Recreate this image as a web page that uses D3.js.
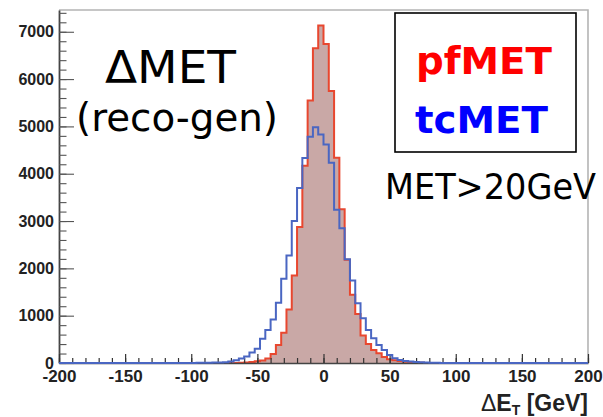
<!DOCTYPE html>
<html>
<head>
<meta charset="utf-8">
<script src="https://cdn.jsdelivr.net/npm/d3@7"></script>
<style>
  html, body { margin: 0; padding: 0; background: #fff; }
  svg { display: block; }
</style>
</head>
<body>
<svg id="chart" width="603" height="417"></svg>
<script>
// Histogram binning: 100 bins of 4 GeV from -200 to 200
const binStart = -200;
const binWidth = 4;

// pfMET - genMET, entries per bin
const pfMET = [
  0, 0, 0, 0, 0, 0, 0, 0, 0, 0,
  0, 0, 0, 0, 0, 0, 0, 0, 0, 0,
  0, 0, 0, 0, 0, 0, 0, 0, 0, 0,
  0, 0, 0, 0, 5, 12, 22, 35, 55, 95,
  190, 380, 640, 1130, 1850, 2874, 4170, 5550, 6650, 7130,
  6740, 5750, 4340, 3250, 2180, 1440, 1035, 580, 400, 275,
  205, 125, 80, 60, 40, 25, 15, 8, 4, 0,
  0, 0, 0, 0, 0, 0, 0, 0, 0, 0,
  0, 0, 0, 0, 0, 0, 0, 0, 0, 0,
  0, 0, 0, 0, 0, 0, 0, 0, 0, 0
];

// tcMET - genMET, entries per bin
const tcMET = [
  0, 0, 0, 0, 0, 0, 0, 0, 0, 0,
  0, 0, 0, 0, 0, 0, 0, 0, 0, 0,
  0, 0, 0, 0, 0, 0, 3, 5, 5, 8,
  10, 15, 30, 60, 95, 140, 220, 300, 515, 700,
  920, 1275, 1780, 2270, 3000, 3700, 4330, 4780, 4980, 4830,
  4620, 4230, 3240, 2850, 2190, 1745, 1265, 946, 699, 522,
  381, 275, 169, 100, 64, 42, 30, 20, 14, 10,
  6, 3, 0, 0, 0, 0, 0, 0, 0, 0,
  0, 0, 0, 0, 0, 0, 0, 0, 0, 0,
  0, 0, 0, 0, 0, 0, 0, 0, 0, 0
];

// Axis ticks
const xMajorTicks = [-200, -150, -100, -50, 0, 50, 100, 150, 200];
const yMajorTicks = [0, 1000, 2000, 3000, 4000, 5000, 6000, 7000];
const xRange = [-200, 200];
const yMax = 7460;

// Text
const titleLines = ["\u0394MET", "(reco-gen)"];
const legendLabels = ["pfMET", "tcMET"];
const cutLabel = "MET>20GeV";

const svg = d3.select("#chart");
const frame = { left: 59, right: 588, top: 10, bottom: 363 };

const x = d3.scaleLinear().domain(xRange).range([frame.left, frame.right]);
const y = d3.scaleLinear().domain([0, yMax]).range([frame.bottom, frame.top]);

// plain ASCII hyphen for negative tick values
const plainNumber = d => String(d);

// turn bin contents into step points
function stepPoints(values) {
  const pts = [];
  values.forEach((v, i) => {
    const lo = binStart + i * binWidth;
    pts.push([lo, v], [lo + binWidth, v]);
  });
  return pts;
}

const line = d3.line().x(d => x(d[0])).y(d => y(d[1]));
const area = d3.area().x(d => x(d[0])).y0(y(0)).y1(d => y(d[1]));

const pfPts = stepPoints(pfMET);
const tcPts = stepPoints(tcMET);

// frame (top and right borders)
svg.append("path")
  .attr("d", `M${frame.left},${frame.top}H${frame.right}V${frame.bottom}`)
  .attr("fill", "none").attr("stroke", "#b4b4b4").attr("stroke-width", 1.6);

// pfMET filled histogram
svg.append("path").attr("d", area(pfPts))
  .attr("fill", "#c9a8a6");
svg.append("path").attr("d", line(pfPts))
  .attr("fill", "none").attr("stroke", "#e8472f").attr("stroke-width", 2);

// y axis
const yAxisG = svg.append("g").attr("transform", `translate(${frame.left},0)`);
yAxisG.call(d3.axisLeft(y).tickValues(d3.range(0, yMax, 200)).tickSizeInner(-7.5).tickSizeOuter(0).tickFormat(""));
yAxisG.selectAll(".tick line").attr("stroke", "#555").attr("stroke-width", 1.1);
yAxisG.select(".domain").attr("stroke", "#444").attr("stroke-width", 1.8);
const yMajG = svg.append("g").attr("transform", `translate(${frame.left},0)`);
yMajG.call(d3.axisLeft(y).tickValues(yMajorTicks).tickSizeInner(-15).tickSizeOuter(0).tickPadding(5).tickFormat(plainNumber));
yMajG.select(".domain").remove();
yMajG.selectAll(".tick line").attr("stroke", "#555").attr("stroke-width", 1.1);
yMajG.selectAll(".tick text")
  .attr("font-family", "Liberation Sans, Arial, sans-serif")
  .attr("font-weight", "bold").attr("font-size", 16).attr("fill", "#222");

// x axis
const xMinG = svg.append("g").attr("transform", `translate(0,${frame.bottom})`);
xMinG.call(d3.axisBottom(x).tickValues(d3.range(-200, 201, 10)).tickSizeInner(-5).tickSizeOuter(0).tickFormat(""));
xMinG.select(".domain").attr("stroke", "#444").attr("stroke-width", 1.5);
xMinG.selectAll(".tick line").attr("stroke", "#333").attr("stroke-width", 1.2);
const xMajG = svg.append("g").attr("transform", `translate(0,${frame.bottom})`);
xMajG.call(d3.axisBottom(x).tickValues(xMajorTicks).tickSizeInner(-9).tickSizeOuter(0).tickPadding(7).tickFormat(plainNumber));
xMajG.select(".domain").remove();
xMajG.selectAll(".tick line").attr("stroke", "#333").attr("stroke-width", 1.2);
xMajG.selectAll(".tick text")
  .attr("font-family", "Liberation Sans, Arial, sans-serif")
  .attr("font-weight", "bold").attr("font-size", 17).attr("fill", "#222");

// tcMET outline histogram, drawn on top
svg.append("path").attr("d", line(tcPts))
  .attr("fill", "none").attr("stroke", "#4a66c2").attr("stroke-width", 2);

// axis title
const xt = svg.append("text")
  .attr("x", 588).attr("y", 411).attr("text-anchor", "end")
  .attr("font-family", "Liberation Sans, Arial, sans-serif")
  .attr("font-size", 23).attr("fill", "#222");
xt.append("tspan").text("\u0394");
xt.append("tspan").attr("font-weight", "bold").text("E");
xt.append("tspan").attr("font-weight", "bold").attr("font-size", 14).attr("dy", 4).text("T");
xt.append("tspan").attr("font-weight", "bold").attr("dy", -4).text(" [GeV]");

// annotation text
const handFont = "DejaVu Sans, Verdana, sans-serif";
svg.append("text").attr("x", 105).attr("y", 83)
  .attr("font-family", handFont).attr("font-size", 45)
  .attr("textLength", 131).attr("lengthAdjust", "spacingAndGlyphs")
  .attr("fill", "#000").text(titleLines[0]);
svg.append("text").attr("x", 76).attr("y", 131)
  .attr("font-family", handFont).attr("font-size", 39)
  .attr("textLength", 202).attr("lengthAdjust", "spacingAndGlyphs")
  .attr("fill", "#000").text(titleLines[1]);

// legend box
svg.append("rect")
  .attr("x", 395).attr("y", 13).attr("width", 181).attr("height", 139)
  .attr("fill", "#fff").attr("stroke", "#000").attr("stroke-width", 1.6);
svg.append("text").attr("x", 416).attr("y", 74)
  .attr("font-family", handFont).attr("font-weight", "bold").attr("font-size", 37)
  .attr("textLength", 136).attr("lengthAdjust", "spacingAndGlyphs")
  .attr("fill", "#ff0000").text(legendLabels[0]);
svg.append("text").attr("x", 415).attr("y", 133)
  .attr("font-family", handFont).attr("font-weight", "bold").attr("font-size", 38)
  .attr("textLength", 133).attr("lengthAdjust", "spacingAndGlyphs")
  .attr("fill", "#0000ff").text(legendLabels[1]);

svg.append("text").attr("x", 385).attr("y", 199)
  .attr("font-family", handFont).attr("font-size", 36)
  .attr("textLength", 211).attr("lengthAdjust", "spacingAndGlyphs")
  .attr("fill", "#000").text(cutLabel);
</script>
</body>
</html>
